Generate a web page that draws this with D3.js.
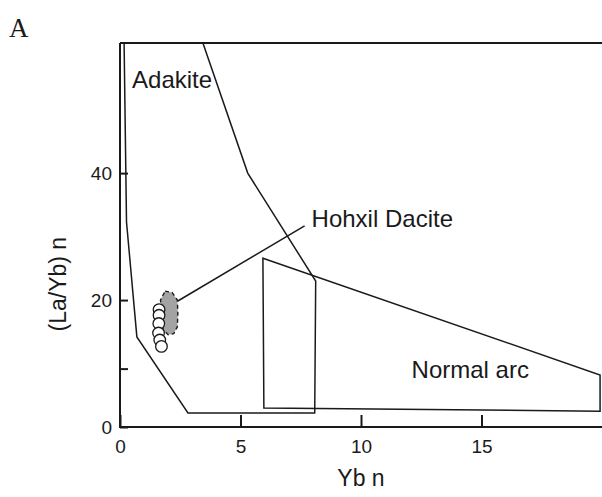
<!DOCTYPE html>
<html>
<head>
<meta charset="utf-8">
<script src="https://cdn.jsdelivr.net/npm/d3@7/dist/d3.min.js"></script>
<style>
  html, body { margin: 0; padding: 0; background: #fff; }
  svg { display: block; }
  text { font-family: "Liberation Sans", Arial, Helvetica, sans-serif; fill: #1a1a1a; }
</style>
</head>
<body>
<svg id="chart" width="602" height="497"></svg>
<script>
// Discrimination fields (Yb n, (La/Yb) n)
const adakiteField = [
  [0.17, 60.5], [0.27, 32.3], [0.70, 14.2], [2.82, 2.2], [8.08, 2.2],
  [8.12, 23.0], [5.30, 40.0], [3.44, 60.5]
];
const normalArcField = [
  [5.93, 26.6], [19.92, 8.2], [19.92, 2.5], [5.97, 3.0]
];

// Hohxil dacite samples
const daciteYb   = [1.62, 1.62, 1.61, 1.60, 1.65, 1.72];
const daciteLaYb = [18.5, 17.6, 16.3, 14.8, 13.7, 12.7];

// Shaded envelope around the dacite samples
const daciteEnvelope = [
  [1.87, 21.4], [2.16, 21.2], [2.38, 20.0], [2.40, 17.95], [2.38, 15.8],
  [2.23, 14.7], [2.00, 14.55], [1.79, 15.3], [1.72, 17.95], [1.68, 20.0]
];
const leader = [[2.40, 19.85], [7.66, 31.7]];

// Axis ticks
const xTicks = [0, 5, 10, 15];
const yTicks = [0, 20, 40];
const yMinorTicks = [9.2];

// Field labels: [text, x, y]
const fieldLabels = [
  ["Adakite", 0.5, 53.4],
  ["Hohxil Dacite", 7.95, 31.5],
  ["Normal arc", 12.1, 7.7]
];

const svg = d3.select("#chart");
const ink = "#1a1a1a";

const x = d3.scaleLinear().domain([0, 20]).range([120, 602]);
const y = d3.scaleLinear().domain([0, 60.5]).range([427, 43]);

const line = d3.line().x(d => x(d[0])).y(d => y(d[1]));

// Panel letter
svg.append("text")
  .attr("x", 9).attr("y", 37)
  .style("font-family", "'Liberation Serif', 'Times New Roman', serif")
  .style("font-size", "27px")
  .text("A");

// Frame: left, bottom and top edges
svg.append("path")
  .attr("d", `M${x(0)},${y(60.5)}H612M${x(0)},${y(60.5)}V${y(0)}H612`)
  .attr("fill", "none").attr("stroke", ink).attr("stroke-width", 2);

// X axis
const xAxis = svg.append("g")
  .attr("transform", `translate(0,${y(0)})`)
  .call(d3.axisBottom(x).tickValues(xTicks).tickSize(-12).tickPadding(13).tickFormat(d3.format("d")));
xAxis.select(".domain").remove();
xAxis.selectAll("line").attr("stroke", ink).attr("stroke-width", 2);
xAxis.selectAll("text").style("font-size", "19px").attr("fill", ink);

// Y axis
const yAxis = svg.append("g")
  .attr("transform", `translate(${x(0)},0)`)
  .call(d3.axisLeft(y).tickValues(yTicks).tickSize(-8).tickPadding(8).tickFormat(d3.format("d")));
yAxis.select(".domain").remove();
yAxis.selectAll("line").attr("stroke", ink).attr("stroke-width", 2);
yAxis.selectAll("text").style("font-size", "19px").attr("fill", ink);

const yMinor = svg.append("g")
  .attr("transform", `translate(${x(0)},0)`)
  .call(d3.axisLeft(y).tickValues(yMinorTicks).tickSize(-8).tickFormat(""));
yMinor.select(".domain").remove();
yMinor.selectAll("line").attr("stroke", ink).attr("stroke-width", 2);

// Axis titles
svg.append("text")
  .attr("x", x(10)).attr("y", 486)
  .attr("text-anchor", "middle")
  .style("font-size", "23px")
  .text("Yb n");
svg.append("text")
  .attr("transform", `translate(66,${y(22.5)}) rotate(-90)`)
  .attr("text-anchor", "middle")
  .style("font-size", "23px")
  .text("(La/Yb) n");

// Fields
svg.append("path")
  .attr("d", line(adakiteField))
  .attr("fill", "none").attr("stroke", ink).attr("stroke-width", 1.5)
  .attr("stroke-linejoin", "miter");
svg.append("path")
  .attr("d", line(normalArcField) + "Z")
  .attr("fill", "none").attr("stroke", ink).attr("stroke-width", 1.5);

// Dacite envelope and leader line
svg.append("path")
  .attr("d", line(daciteEnvelope) + "Z")
  .attr("fill", "#a3a3a3").attr("stroke", ink).attr("stroke-width", 1.4)
  .attr("stroke-dasharray", "4,3");
svg.append("path")
  .attr("d", line(leader))
  .attr("fill", "none").attr("stroke", ink).attr("stroke-width", 1.5);

// Samples
svg.append("g").selectAll("circle")
  .data(daciteYb.map((v, i) => [v, daciteLaYb[i]]))
  .join("circle")
  .attr("cx", d => x(d[0])).attr("cy", d => y(d[1]))
  .attr("r", 5.8)
  .attr("fill", "#fff").attr("stroke", ink).attr("stroke-width", 1.3);

// Field labels
svg.append("g").selectAll("text")
  .data(fieldLabels)
  .join("text")
  .attr("x", d => x(d[1])).attr("y", d => y(d[2]))
  .style("font-size", "24px")
  .text(d => d[0]);
</script>
</body>
</html>
